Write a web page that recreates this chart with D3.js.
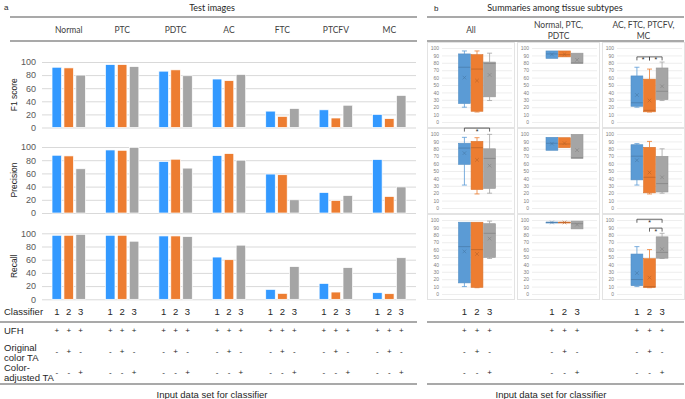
<!DOCTYPE html>
<html>
<head>
<meta charset="utf-8">
<script src="https://cdn.jsdelivr.net/npm/d3@7"></script>
<style>
  body { margin: 0; background: #fff; }
  svg { display: block; }
</style>
</head>
<body>
<script>
// ---- data ----
const categories = ['Normal', 'PTC', 'PDTC', 'AC', 'FTC', 'PTCFV', 'MC']
const classifiers = ['1', '2', '3']
const metrics = ['F1 score', 'Precision', 'Recall']

const f1Clf1 = [92, 96, 86, 74, 25, 27, 20]
const f1Clf2 = [91, 96, 88, 71.5, 17, 14.5, 13.5]
const f1Clf3 = [80, 93, 79, 81, 29, 34, 49]

const precClf1 = [87.5, 95.5, 78, 87, 59, 31, 81]
const precClf2 = [86.5, 95, 81.5, 90, 58, 19, 25]
const precClf3 = [67, 99.5, 68, 80, 20, 26.5, 39.5]

const recClf1 = [97, 97, 96, 64, 15, 24, 10]
const recClf2 = [97, 97, 96, 60, 9, 11, 8.5]
const recClf3 = [98.5, 88, 95, 82, 49.5, 48, 63]

const yTicksBar = [0, 20, 40, 60, 80, 100]
const yTicksBox = [0, 10, 20, 30, 40, 50, 60, 70, 80, 90, 100]

// subtype groups summarised in panel b
const groupTitles = [['All'], ['Normal, PTC,', 'PDTC'], ['AC, FTC, PTCFV,', 'MC']]
const groupMembers = [categories, ['Normal', 'PTC', 'PDTC'], ['AC', 'FTC', 'PTCFV', 'MC']]

// input data table under the charts
const inputRows = [['UFH'], ['Original', 'color TA'], ['Color-', 'adjusted TA']]
const inputMarks = [['+', '+', '+'], ['-', '+', '-'], ['-', '-', '+']]

// significance brackets: metric row, group column, compared classifiers, bracket height (score units)
const sigMetric = [0, 0, 1, 2, 2]
const sigGroup = [2, 2, 0, 2, 2]
const sigFrom = ['1', '2', '1', '1', '2']
const sigTo = ['2', '3', '3', '3', '3']
const sigAt = [88, 88, 108, 101, 89]

// ---- drawing ----
const W = 685, H = 399
const sans = '"Liberation Sans", Arial, sans-serif'
const head = 'Lato, "Open Sans", sans-serif'
const barColours = ['#3399ff', '#ed7d31', '#a5a5a5']
const boxColours = ['#5b9bd5', '#ed7d31', '#a5a5a5']
const metricSeries = [
  [f1Clf1, f1Clf2, f1Clf3],
  [precClf1, precClf2, precClf3],
  [recClf1, recClf2, recClf3]
]

d3.selection.prototype.pen = function (fill, stroke, width) {
  return this.attr('fill', fill).attr('stroke', stroke).attr('stroke-width', width)
}

d3.selection.prototype.label = function (x, y, txt, size, anchor, font, colour) {
  return this.append('text')
    .attr('x', x).attr('y', y)
    .attr('font-size', size)
    .attr('font-family', font || sans)
    .attr('fill', colour || '#262626')
    .attr('text-anchor', anchor || 'middle')
    .text(txt)
}

const svg = d3.select(document.body).append('svg')
  .attr('width', W).attr('height', H)
  .attr('xmlns', 'http://www.w3.org/2000/svg')
svg.append('rect').attr('width', W).attr('height', H).attr('fill', 'white')

function rule(x1, x2, y) {
  svg.append('line').attr('x1', x1).attr('x2', x2).attr('y1', y).attr('y2', y)
    .attr('stroke', '#8c8c8c').attr('stroke-width', 1.3)
}

// header rules and titles
svg.label(4, 10, 'a', 8, 'start', sans)
svg.label(434, 11, 'b', 8, 'start', sans)
svg.label(212, 11, 'Test images', 9, 'middle', head)
svg.label(555, 11, 'Summaries among tissue subtypes', 9, 'middle', head)
;[17, 41].forEach(y => { rule(10, 417, y); rule(427, 684, y) })
;[322, 384].forEach(y => { rule(0, 417, y); rule(427, 684, y) })

// ---- panel a: grouped bars ----
const plotX = [42, 416]
const x0 = d3.scaleBand(categories, plotX)
const x1 = d3.scaleBand(classifiers, [-16.7, 16.7]).paddingInner(0.2)
const barRows = [[62, 127.5], [147, 213], [233.3, 299.3]]
const barCentre = (cat, clf) => x0(cat) + x0.bandwidth() / 2 + x1(clf) + x1.bandwidth() / 2

categories.forEach(cat => svg.label(x0(cat) + x0.bandwidth() / 2, 33, cat, 8.5, 'middle', head, '#404040'))

metrics.forEach((m, mi) => {
  const [top, bottom] = barRows[mi]
  const y = d3.scaleLinear([0, 100], [bottom, top])
  const g = svg.append('g')

  g.append('g').attr('transform', `translate(${plotX[0]},0)`)
    .call(d3.axisLeft(y).tickValues(yTicksBar).tickSize(-(plotX[1] - plotX[0])).tickFormat(''))
    .call(a => a.select('.domain').remove())
    .call(a => a.selectAll('line').attr('stroke', '#d9d9d9'))

  g.append('g').attr('transform', 'translate(39,0)')
    .call(d3.axisLeft(y).tickValues(yTicksBar).tickSize(0))
    .attr('font-size', 9).attr('font-family', sans)
    .call(a => a.select('.domain').remove())
    .call(a => a.selectAll('text').attr('fill', '#595959'))

  metricSeries[mi].forEach((vals, ci) => {
    g.selectAll(null).data(vals).join('rect')
      .attr('x', (d, i) => x0(categories[i]) + x0.bandwidth() / 2 + x1(classifiers[ci]))
      .attr('width', x1.bandwidth())
      .attr('y', d => y(d))
      .attr('height', d => y(0) - y(d))
      .pen(barColours[ci], 'white', 0.7)
  })

  svg.append('text')
    .attr('transform', `translate(15,${(top + bottom) / 2}) rotate(-90)`)
    .attr('text-anchor', 'middle').attr('dominant-baseline', 'middle')
    .attr('font-size', 8.5).attr('font-family', sans).attr('fill', '#262626')
    .text(m)
})

// classifier numbers and input table under panel a
svg.label(4, 314.5, 'Classifier', 9.5, 'start')
categories.forEach(cat => classifiers.forEach((clf, ci) => {
  const cx = barCentre(cat, clf)
  svg.label(cx, 314.5, clf, 9.5)
  inputMarks.forEach((row, ri) => svg.label(cx, [333, 353.5, 374.5][ri], row[ci], 8))
}))
inputRows.forEach((lines, ri) => lines.forEach((t, li) => {
  svg.label(4, [333.5, 350.5, 370.5][ri] + li * 10.5, t, 9.5, 'start')
}))
svg.label(212, 397.5, 'Input data set for classifier', 9.5)
svg.label(551, 397.5, 'Input data set for classifier', 9.5)

// ---- panel b: box plots (Excel style, exclusive quartiles) ----
function quartileExc(sorted, q) {
  const n = sorted.length
  const pos = Math.max(1, Math.min(n, q * (n + 1)))
  const lo = Math.floor(pos)
  if (lo >= n) return sorted[n - 1]
  return sorted[lo - 1] + (pos - lo) * (sorted[lo] - sorted[lo - 1])
}

function boxStats(vals) {
  const s = vals.slice().sort(d3.ascending)
  const q1 = quartileExc(s, 0.25)
  const q3 = quartileExc(s, 0.75)
  const iqr = q3 - q1
  const inside = s.filter(v => v >= q1 - 1.5 * iqr && v <= q3 + 1.5 * iqr)
  return {
    q1, q3,
    median: d3.median(s),
    mean: d3.mean(s),
    lo: d3.min(inside),
    hi: d3.max(inside),
    outliers: s.filter(v => !inside.includes(v))
  }
}

const cellCols = [[427, 515], [517, 600], [602, 685]]
const cellRows = [[42, 128], [128, 214], [214, 300]]

const boxScales = cellCols.map(([cx0, cx1]) => {
  const gx0 = cx0 + 15, gx1 = cx1 - 3
  const mid = (gx0 + gx1) / 2
  return { gx0, gx1, xb: d3.scaleBand(classifiers, [mid - 18.5, mid + 18.5]).paddingInner(0.06) }
})

groupTitles.forEach((lines, gi) => {
  const cx = (cellCols[gi][0] + cellCols[gi][1]) / 2
  lines.forEach((t, li) => svg.label(cx, (lines.length > 1 ? 28 : 33) + li * 10.5, t, 8.5, 'middle', head, '#404040'))
})

metrics.forEach((m, mi) => {
  const [top, bottom] = cellRows[mi]
  const y = d3.scaleLinear([0, 100], [bottom - 6, top + 6])

  groupMembers.forEach((members, gi) => {
    const [cx0, cx1] = cellCols[gi]
    const { gx0, gx1, xb } = boxScales[gi]
    const g = svg.append('g')

    g.append('rect').attr('x', cx0 + 0.5).attr('y', top + 0.5)
      .attr('width', cx1 - cx0 - 1).attr('height', bottom - top - 1)
      .pen('white', '#e3e3e3', 1)

    g.append('g').attr('transform', `translate(${gx0},0)`)
      .call(d3.axisLeft(y).tickValues(yTicksBox).tickSize(-(gx1 - gx0)).tickFormat(''))
      .call(a => a.select('.domain').remove())
      .call(a => a.selectAll('line').attr('stroke', '#e6e6e6').attr('stroke-width', 0.7))

    g.append('g').attr('transform', `translate(${cx0 + 14},0)`)
      .call(d3.axisLeft(y).tickValues(yTicksBox).tickSize(0).tickPadding(2))
      .attr('font-size', 5).attr('font-family', sans)
      .call(a => a.select('.domain').remove())
      .call(a => a.selectAll('text').attr('fill', '#7f7f7f'))

    metricSeries[mi].forEach((vals, ci) => {
      const picked = members.map(c => vals[categories.indexOf(c)])
      const st = boxStats(picked)
      const col = boxColours[ci]
      const dark = d3.color(col).darker(0.7).formatHex()
      const bx = xb(classifiers[ci])
      const bw = xb.bandwidth()
      const cx = bx + bw / 2
      const bg = g.append('g')

      // whiskers with caps
      ;[[st.q3, st.hi], [st.q1, st.lo]].forEach(([a, b]) => {
        if (a === b) return
        bg.append('line').attr('x1', cx).attr('x2', cx).attr('y1', y(a)).attr('y2', y(b))
          .attr('stroke', col).attr('stroke-width', 0.8)
        bg.append('line').attr('x1', cx - 2.5).attr('x2', cx + 2.5).attr('y1', y(b)).attr('y2', y(b))
          .attr('stroke', col).attr('stroke-width', 0.8)
      })

      bg.append('rect')
        .attr('x', bx).attr('width', bw)
        .attr('y', y(st.q3)).attr('height', Math.max(0.8, y(st.q1) - y(st.q3)))
        .pen(col, d3.color(col).darker(0.25).formatHex(), 0.6)

      bg.append('line').attr('x1', bx).attr('x2', bx + bw)
        .attr('y1', y(st.median)).attr('y2', y(st.median))
        .attr('stroke', dark).attr('stroke-width', 0.7)

      const my = y(st.mean), r = 1.8
      bg.append('path')
        .attr('d', `M${cx - r},${my - r}L${cx + r},${my + r}M${cx - r},${my + r}L${cx + r},${my - r}`)
        .attr('stroke', dark).attr('stroke-width', 0.6).attr('fill', 'none')

      st.outliers.forEach(v => {
        bg.append('circle').attr('cx', cx).attr('cy', y(v)).attr('r', 1.2).pen('none', col, 0.6)
      })
    })
  })
})

// significance brackets
sigAt.forEach((lvl, i) => {
  const [top, bottom] = cellRows[sigMetric[i]]
  const y = d3.scaleLinear([0, 100], [bottom - 6, top + 6])
  const xb = boxScales[sigGroup[i]].xb
  const xa = xb(sigFrom[i]) + xb.bandwidth() / 2
  const xc = xb(sigTo[i]) + xb.bandwidth() / 2
  const yy = y(lvl)
  svg.append('path')
    .attr('d', `M${xa},${yy + 3.5}V${yy}H${xc}V${yy + 3.5}`)
    .pen('none', '#3f3f3f', 0.8)
  svg.label((xa + xc) / 2, yy + 5.5, '*', 7, 'middle', sans, '#262626')
})

// classifier numbers and input table under panel b
boxScales.forEach(({ xb }) => classifiers.forEach((clf, ci) => {
  const cx = xb(clf) + xb.bandwidth() / 2
  svg.label(cx, 314.5, clf, 9.5)
  inputMarks.forEach((row, ri) => svg.label(cx, [333, 353.5, 374.5][ri], row[ci], 8))
}))
</script>
</body>
</html>
